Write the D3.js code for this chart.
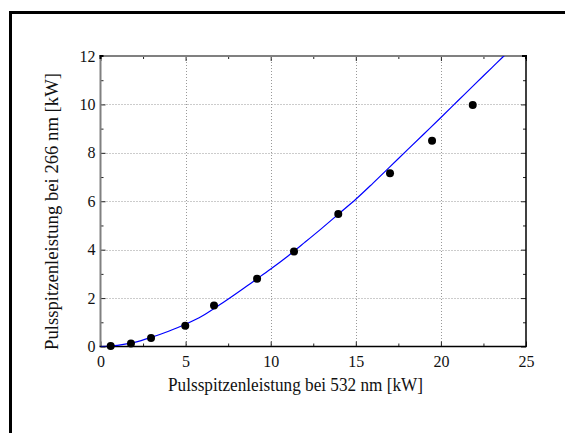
<!DOCTYPE html>
<html>
<head>
<meta charset="utf-8">
<script src="https://cdn.jsdelivr.net/npm/d3@7"></script>
<style>
  html, body { margin: 0; padding: 0; background: #fff; }
  svg { display: block; }
  text { font-family: "Liberation Serif", "DejaVu Serif", serif; fill: #111; }
</style>
</head>
<body>
<svg id="chart" width="565" height="433"></svg>
<script>
// ---- data ----
const pointX = [0.6, 1.79, 2.97, 4.98, 6.67, 9.2, 11.37, 13.97, 17.01, 19.48, 21.87];
const pointY = [0.02, 0.12, 0.35, 0.86, 1.69, 2.8, 3.92, 5.47, 7.16, 8.5, 9.98];
const fitX = [0, 1, 2, 3, 4, 5, 6, 7, 8, 9, 10, 11, 12, 13, 14, 15, 16, 17, 18, 19, 20, 21, 22, 23, 23.7, 24];
const fitY = [0, 0.05, 0.17, 0.38, 0.63, 0.92, 1.27, 1.72, 2.2, 2.7, 3.2, 3.73, 4.3, 4.88, 5.48, 6.08, 6.74, 7.42, 8.1, 8.78, 9.46, 10.15, 10.84, 11.52, 12.0, 12.2];
const xMajorTicks = [0, 5, 10, 15, 20, 25];
const xMinorTicks = [2.5, 7.5, 12.5, 17.5, 22.5];
const yMajorTicks = [0, 2, 4, 6, 8, 10, 12];
const yMinorTicks = [1, 3, 5, 7, 9, 11];
const xTitle = "Pulsspitzenleistung bei 532 nm [kW]";
const yTitle = "Pulsspitzenleistung bei 266 nm [kW]";

// ---- layout ----
const L = 100.5, R = 526, T = 56, B = 346.5;
const SERIF = "'Liberation Serif', 'DejaVu Serif', serif";
const svg = d3.select("#chart");
const x = d3.scaleLinear().domain([0, 25]).range([L, R]);
const y = d3.scaleLinear().domain([0, 12]).range([B, T]);

// outer frame
svg.append("rect").attr("x", 10.5).attr("y", 12.5).attr("width", 700).attr("height", 600)
  .attr("fill", "none").attr("stroke", "#000").attr("stroke-width", 3);

// grid
const grid = svg.append("g").attr("stroke", "#999").attr("stroke-width", 1).attr("stroke-dasharray", "1,2");
grid.selectAll(".gx").data(xMajorTicks.filter(d => d > 0 && d < 25)).join("line")
  .attr("x1", d => Math.round(x(d)) + 0.5).attr("x2", d => Math.round(x(d)) + 0.5)
  .attr("y1", T).attr("y2", B);
grid.selectAll(".gy").data(yMajorTicks.filter(d => d > 0 && d < 12)).join("line")
  .attr("x1", L).attr("x2", R)
  .attr("y1", d => Math.round(y(d)) + 0.5).attr("y2", d => Math.round(y(d)) + 0.5);

// axes (ticks inward)
function styleAxis(g) {
  g.attr("font-family", SERIF).attr("font-size", 16);
  g.select(".domain").remove();
  g.selectAll(".tick line").attr("stroke", "#222").attr("stroke-width", 1);
  g.selectAll(".tick text").attr("font-family", SERIF).attr("font-size", 16).attr("fill", "#111");
}
svg.append("g").attr("transform", `translate(0,${B})`)
  .call(d3.axisBottom(x).tickValues(xMajorTicks).tickSize(-5).tickPadding(9).tickFormat(d3.format("d")))
  .call(styleAxis);
svg.append("g").attr("transform", `translate(0,${B})`)
  .call(d3.axisBottom(x).tickValues(xMinorTicks).tickSize(-3).tickFormat(""))
  .call(styleAxis);
svg.append("g").attr("transform", `translate(0,${T})`)
  .call(d3.axisTop(x).tickValues(xMajorTicks).tickSize(-5).tickFormat(""))
  .call(styleAxis);
svg.append("g").attr("transform", `translate(0,${T})`)
  .call(d3.axisTop(x).tickValues(xMinorTicks).tickSize(-3).tickFormat(""))
  .call(styleAxis);
svg.append("g").attr("transform", `translate(${L},0)`)
  .call(d3.axisLeft(y).tickValues(yMajorTicks).tickSize(-5).tickPadding(5).tickFormat(d3.format("d")))
  .call(styleAxis);
svg.append("g").attr("transform", `translate(${L},0)`)
  .call(d3.axisLeft(y).tickValues(yMinorTicks).tickSize(-3).tickFormat(""))
  .call(styleAxis);
svg.append("g").attr("transform", `translate(${R},0)`)
  .call(d3.axisRight(y).tickValues(yMajorTicks).tickSize(-5).tickFormat(""))
  .call(styleAxis);
svg.append("g").attr("transform", `translate(${R},0)`)
  .call(d3.axisRight(y).tickValues(yMinorTicks).tickSize(-3).tickFormat(""))
  .call(styleAxis);

// frame lines of plot
svg.append("line").attr("x1", L).attr("x2", L).attr("y1", T - 1).attr("y2", B).attr("stroke", "#808080").attr("stroke-width", 2);
svg.append("line").attr("x1", L - 1).attr("x2", R).attr("y1", T).attr("y2", T).attr("stroke", "#808080").attr("stroke-width", 2);
svg.append("line").attr("x1", R).attr("x2", R).attr("y1", T - 1).attr("y2", B + 0.5).attr("stroke", "#000").attr("stroke-width", 1.5);
svg.append("line").attr("x1", L - 1).attr("x2", R + 0.5).attr("y1", B).attr("y2", B).attr("stroke", "#000").attr("stroke-width", 1.5);
svg.append("path").attr("d", `M${L},${T + 3}V${T}H${L + 3}`).attr("fill", "none").attr("stroke", "#000").attr("stroke-width", 2);
svg.append("path").attr("d", `M${R - 4},${T}H${R}V${T + 3}`).attr("fill", "none").attr("stroke", "#000").attr("stroke-width", 2);

// clip
svg.append("clipPath").attr("id", "clip").append("rect").attr("x", L).attr("y", T).attr("width", R - L).attr("height", B - T);

// fit line
const line = d3.line().x((d, i) => x(fitX[i])).y((d, i) => y(fitY[i])).curve(d3.curveMonotoneX);
svg.append("path").datum(fitX).attr("d", line).attr("clip-path", "url(#clip)")
  .attr("fill", "none").attr("stroke", "#0000ff").attr("stroke-width", 1.2);

// points
svg.append("g").selectAll("circle").data(pointX).join("circle")
  .attr("cx", (d, i) => x(pointX[i])).attr("cy", (d, i) => y(pointY[i])).attr("r", 4).attr("fill", "#000");

// titles
svg.append("text").attr("x", 295.5).attr("y", 391).attr("text-anchor", "middle")
  .attr("font-family", SERIF).attr("font-size", 18)
  .attr("textLength", 255).attr("lengthAdjust", "spacingAndGlyphs")
  .text(xTitle);
svg.append("text").attr("transform", "translate(58,211.5) rotate(-90)").attr("text-anchor", "middle")
  .attr("font-family", SERIF).attr("font-size", 18)
  .attr("textLength", 277).attr("lengthAdjust", "spacingAndGlyphs")
  .text(yTitle);
</script>
</body>
</html>
